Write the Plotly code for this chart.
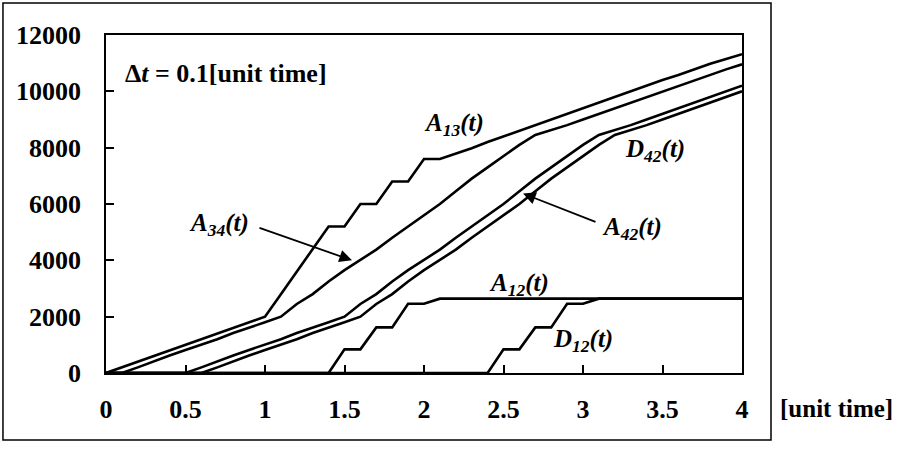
import plotly.graph_objects as go

# time grid (dt = 0.1 unit time)
T = [0.0, 0.1, 0.2, 0.3, 0.4, 0.5, 0.6, 0.7, 0.8, 0.9,
     1.0, 1.1, 1.2, 1.3, 1.4, 1.5, 1.6, 1.7, 1.8, 1.9,
     2.0, 2.1, 2.2, 2.3, 2.4, 2.5, 2.6, 2.7, 2.8, 2.9,
     3.0, 3.1, 3.2, 3.3, 3.4, 3.5, 3.6, 3.7, 3.8, 3.9, 4.0]

A13 = [0, 200, 420, 620, 820, 1000, 1200, 1420, 1600, 1800,
       2000, 2800, 3600, 4400, 5200, 5200, 6000, 6000, 6800, 6800,
       7600, 7600, 7780, 7980, 8200, 8400, 8620, 8820, 9020, 9200,
       9420, 9620, 9800, 10000, 10200, 10400, 10580, 10780, 10980, 11150, 11320]

A34 = [0, 0, 200, 420, 620, 820, 1000, 1200, 1420, 1600,
       1800, 2000, 2450, 2800, 3250, 3650, 4000, 4380, 4800, 5200,
       5600, 6000, 6450, 6900, 7300, 7700, 8100, 8450, 8620, 8800,
       9000, 9200, 9400, 9600, 9800, 10000, 10200, 10400, 10600, 10780, 10960]

A42 = [0, 0, 0, 0, 0, 0, 200, 420, 620, 820,
       1000, 1200, 1420, 1600, 1800, 2000, 2450, 2800, 3250, 3650,
       4000, 4380, 4800, 5200, 5600, 6000, 6450, 6900, 7300, 7700,
       8100, 8450, 8620, 8800, 9000, 9200, 9400, 9600, 9800, 10000, 10200]

D42 = [0, 0, 0, 0, 0, 0, 0, 200, 420, 620,
       820, 1000, 1200, 1420, 1600, 1800, 2000, 2450, 2800, 3250,
       3650, 4000, 4380, 4800, 5200, 5600, 6000, 6450, 6900, 7300,
       7700, 8100, 8450, 8620, 8800, 9000, 9200, 9400, 9600, 9800, 10000]

A12 = [0, 0, 0, 0, 0, 0, 0, 0, 0, 0,
       0, 0, 0, 0, 0, 840, 840, 1620, 1620, 2460,
       2460, 2640, 2640, 2640, 2640, 2640, 2640, 2640, 2640, 2640,
       2640, 2640, 2640, 2640, 2640, 2640, 2640, 2640, 2640, 2640, 2640]

D12 = [0, 0, 0, 0, 0, 0, 0, 0, 0, 0,
       0, 0, 0, 0, 0, 0, 0, 0, 0, 0,
       0, 0, 0, 0, 0, 840, 840, 1620, 1620, 2460,
       2460, 2640, 2640, 2640, 2640, 2640, 2640, 2640, 2640, 2640, 2640]

X_TICKS = [0, 0.5, 1, 1.5, 2, 2.5, 3, 3.5, 4]
X_TICKTEXT = ["0", "0.5", "1", "1.5", "2", "2.5", "3", "3.5", "4"]
Y_TICKS = [0, 2000, 4000, 6000, 8000, 10000, 12000]
Y_TICKTEXT = ["0", "2000", "4000", "6000", "8000", "10000", "12000"]

FONT = "Liberation Serif"

fig = go.Figure()
for name, ys in [("A13", A13), ("A34", A34), ("A42", A42), ("D42", D42),
                 ("A12", A12), ("D12", D12)]:
    fig.add_trace(go.Scatter(x=T, y=ys, mode="lines", name=name,
                             line=dict(color="black", width=2.6),
                             showlegend=False, cliponaxis=False))

def lab(main, sub):
    return f"<b><i>{main}</i><sub><i>{sub}</i></sub><i>(t)</i></b>"

labels = [
    ("A", "13", 2.19, 8814),
    ("D", "42", 3.45, 7894),
    ("A", "42", 3.31, 5133),
    ("A", "34", 0.71, 5274),
    ("A", "12", 2.60, 3150),
    ("D", "12", 3.00, 1170),
]
for m, s, x, y in labels:
    fig.add_annotation(x=x, y=y, text=lab(m, s), showarrow=False,
                       font=dict(family=FONT, size=25, color="black"))

# arrows
fig.add_annotation(x=1.547, y=4000, ax=0.956, ay=5168, axref="x", ayref="y",
                   text="", showarrow=True, arrowhead=2, arrowsize=1.4,
                   arrowwidth=1.8, arrowcolor="black")
fig.add_annotation(x=2.623, y=6372, ax=3.088, ay=5345, axref="x", ayref="y",
                   text="", showarrow=True, arrowhead=2, arrowsize=1.4,
                   arrowwidth=1.8, arrowcolor="black")

fig.add_annotation(x=0.0267, y=0.935, xref="paper", yref="paper",
                   xanchor="left", yanchor="top", showarrow=False,
                   text="<b>Δ<i>t</i> = 0.1[unit time]</b>",
                   font=dict(family=FONT, size=26, color="black"))

fig.add_annotation(x=1.0566, y=-0.1036, xref="paper", yref="paper",
                   xanchor="left", yanchor="middle", showarrow=False,
                   text="<b>[unit time]</b>",
                   font=dict(family=FONT, size=25, color="black"))

# outer frame
fig.add_shape(type="rect", xref="paper", yref="paper",
              x0=-0.162, x1=1.0456, y0=-0.198, y1=1.0947,
              line=dict(color="black", width=1.5), layer="below")

fig.update_layout(
    width=899, height=449,
    margin=dict(l=106, r=157, t=35, b=76),
    paper_bgcolor="white", plot_bgcolor="white",
    font=dict(family=FONT, color="black"),
    xaxis=dict(range=[0, 4], tickvals=X_TICKS, ticktext=X_TICKTEXT,
               ticks="inside", ticklen=8,
               tickwidth=1.5, tickcolor="black", showgrid=False, zeroline=False,
               showline=True, mirror=True, linecolor="black", linewidth=1.8,
               tickfont=dict(family=FONT, size=26, color="black", weight="bold"),
               ticklabelstandoff=12),
    yaxis=dict(range=[0, 12000], tickvals=Y_TICKS, ticktext=Y_TICKTEXT,
               ticks="inside", ticklen=8,
               tickwidth=1.5, tickcolor="black", showgrid=False, zeroline=False,
               showline=True, mirror=True, linecolor="black", linewidth=1.8,
               tickfont=dict(family=FONT, size=26, color="black", weight="bold"),
               ticklabelstandoff=18),
)

# remove the default 8px page margin so the 899x449 figure fills the window
fig.write_html("out.html",
               config={"displayModeBar": False},
               post_script="document.body.style.margin='0';document.body.style.overflow='hidden';")
